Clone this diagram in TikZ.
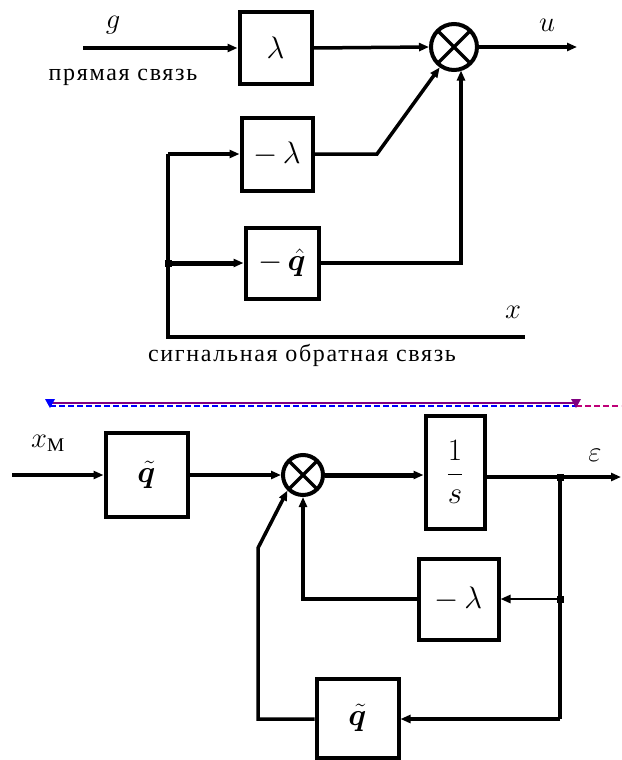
\documentclass[tikz,border=0pt]{standalone}
\usepackage{fontspec}
\setmainfont{Liberation Serif}
\usepackage{bm}
\usepackage{graphicx}
\usetikzlibrary{arrows.meta,calc}
\definecolor{purp}{RGB}{128,0,128}
\definecolor{blu}{RGB}{0,0,255}
\definecolor{mag}{RGB}{190,0,120}
\newcommand{\bxm}[1]{\scalebox{1.25}{$#1$}}
\newcommand{\lbm}[1]{\scalebox{1.15}{$#1$}}
\begin{document}
\begin{tikzpicture}[x=1pt,y=-1pt,
  blk/.style={draw, line width=4pt, inner sep=0pt, font=\fontsize{24}{28}\selectfont},
  sumnode/.style={circle, draw, line width=4pt, inner sep=0pt,
    path picture={\draw[line width=3.5pt] (path picture bounding box.south west) -- (path picture bounding box.north east)
      (path picture bounding box.north west) -- (path picture bounding box.south east);}},
  ln/.style={line width=3.5pt},
  arr/.style={line width=3.5pt, -{Triangle[length=10pt,width=8pt]}},
  lbl/.style={font=\fontsize{24}{28}\selectfont, inner sep=0pt},
  txt/.style={font=\fontsize{24}{28}\selectfont\addfontfeatures{LetterSpace=7}, inner sep=0pt},
  jdot/.style={fill, rectangle, minimum size=7pt, inner sep=0pt},
]
\useasboundingbox (0,0) rectangle (621,760);
% ---------- top diagram ----------
\node[blk, minimum width=72pt, minimum height=72pt] (lam) at (275.5,48) {\bxm{\lambda}};
\node[sumnode, minimum size=46pt] (s1) at (454,47) {};
\node[blk, minimum width=71pt, minimum height=73pt] (mlam) at (277,154) {\bxm{-\,\lambda}};
\node[blk, minimum width=73pt, minimum height=71pt] (mq) at (282,263) {\bxm{-\,\bm{\hat q}}};
\coordinate (gin) at (83,48);
\coordinate (uout) at (577,47);
\coordinate (lt) at (168,154);
\coordinate (lj) at (168,263);
\coordinate (lb) at (168,337);
\coordinate (rb) at (525,337);
\coordinate (kink) at (377,154);
\coordinate (rv) at (461,263);
\coordinate (rvt) at (461,70.5);
\draw[arr] (gin) -- (lam.west);
\draw[arr] (lam.east) -- (s1.west);
\draw[arr] (s1.east) -- (uout);
\draw[ln] (lt) -- (lb) -- (rb);
\draw[arr] (lt) -- (mlam.west);
\draw[arr, line width=5pt] (lj) -- (mq.west);
\node[jdot] (d1) at (lj) {};
\draw[arr] (mlam.east) -- (kink) -- (s1.235);
\draw[arr, line width=4.5pt] (mq.east) -- (rv) -- (rvt);
\node[lbl] (gl) at (113,25) {\lbm{g}};
\node[lbl] (ul) at (547,25) {\lbm{u}};
\node[lbl] (xl) at (513,312) {\lbm{x}};
\node[txt] (t1) at (123,77) {прямая связь};
\node[txt] (t2) at (302,355) {сигнальная обратная связь};
% ---------- separator ----------
\coordinate (sepL) at (50,403);
\coordinate (sepR) at (576,403);
\coordinate (sepE) at (621,406);
\draw[blu, line width=1.2pt, dash pattern=on 6pt off 3pt] ($(sepL)+(0,3)$) -- ($(sepR)+(0,3)$);
\draw[mag, line width=1.2pt, dash pattern=on 6pt off 3pt] ($(sepR)+(0,3)$) -- (sepE);
\draw[purp, line width=2pt] (sepL) -- (sepR);
\fill[blu] ($(sepL)+(-5,-4)$) -- ($(sepL)+(5,-4)$) -- ($(sepL)+(0,5)$) -- cycle;
\fill[purp] ($(sepR)+(-5,-4)$) -- ($(sepR)+(5,-4)$) -- ($(sepR)+(0,5)$) -- cycle;
% ---------- bottom diagram ----------
\node[blk, minimum width=82pt, minimum height=84pt] (q1) at (146.5,475) {\bxm{\bm{\tilde q}}};
\node[sumnode, minimum size=40pt] (s2) at (303,475) {};
\node[blk, minimum width=59pt, minimum height=113pt] (integ) at (455,472) {\bxm{\displaystyle\frac{1}{s}}};
\node[blk, minimum width=80pt, minimum height=81pt] (lam2) at (458.5,599) {\bxm{-\,\lambda}};
\node[blk, minimum width=82pt, minimum height=79pt] (q2) at (357.5,718) {\bxm{\bm{\tilde q}}};
\coordinate (xin) at (12,475);
\coordinate (eout) at (621,477);
\coordinate (j1) at (560,477);
\coordinate (j2) at (560,599);
\coordinate (j3) at (560,719);
\coordinate (lv) at (258,719);
\coordinate (lvt) at (258,548);
\draw[arr] (xin) -- (q1.west);
\draw[arr] (q1.east) -- (s2.west);
\draw[arr, line width=5pt] (s2.east) -- (integ.west |- s2.east);
\draw[arr] (integ.east |- j1) -- (eout);
\draw[ln] (j1) -- (j3);
\draw[arr, line width=2.5pt] (j2) -- (lam2.east);
\draw[arr] (j3) -- (q2.east |- j3);
\draw[arr] (lam2.west) -| (s2.south);
\draw[arr] (q2.west |- j3) -- (lv) -- (lvt) -- (s2.225);
\node[jdot] (d2) at (j1) {};
\node[jdot] (d3) at (j2) {};
\node[lbl] (xm) at (48,443) {\lbm{x_{\mathrm{M}}}};
\node[lbl] (el) at (595,455) {\lbm{\varepsilon}};
\end{tikzpicture}
\end{document}
